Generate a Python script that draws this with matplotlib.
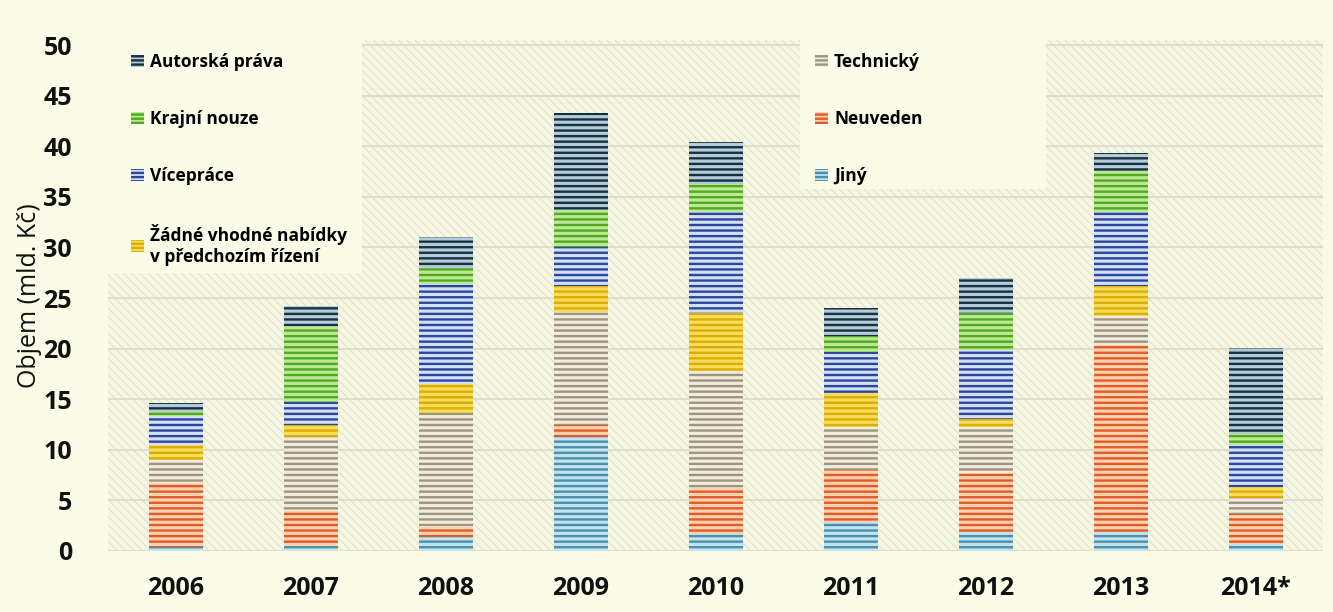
import numpy as np
import matplotlib.pyplot as plt
from matplotlib.patches import Rectangle, Patch

plt.rcParams['font.family'] = ['Open Sans', 'DejaVu Sans']

years = ['2006', '2007', '2008', '2009', '2010', '2011', '2012', '2013', '2014*']

# stacked from bottom to top (mld. Kc)
jiny = [0.4, 0.5, 1.4, 11.3, 1.7, 2.9, 1.9, 1.9, 0.7]
neuveden = [6.3, 3.5, 1.0, 1.2, 4.5, 5.1, 5.8, 18.5, 3.0]
technicky = [2.3, 7.3, 11.2, 11.1, 11.6, 4.3, 4.6, 2.8, 1.5]
zadne = [1.5, 1.2, 2.9, 2.6, 5.7, 3.3, 0.7, 3.0, 1.1]
viceprace = [2.8, 2.2, 9.9, 3.8, 10.0, 4.1, 6.9, 7.3, 4.2]
krajni = [0.4, 7.5, 1.6, 3.7, 2.8, 1.5, 3.6, 4.1, 1.1]
autorska = [0.9, 2.0, 3.0, 9.6, 4.1, 2.8, 3.5, 1.7, 8.5]

series = [
    ('Jiný', jiny, '#c3e3ee', '#4b8fae'),
    ('Neuveden', neuveden, '#fdd2ad', '#e4592a'),
    ('Technický', technicky, '#f4ebdc', '#9a9682'),
    ('Žádné vhodné nabídky\nv předchozím řízení', zadne, '#f6de5a', '#ddac06'),
    ('Vícepráce', viceprace, '#d3e0f4', '#2c46a0'),
    ('Krajní nouze', krajni, '#bde994', '#4faa22'),
    ('Autorská práva', autorska, '#b4ccd6', '#162f42'),
]

bg = '#fafce7'
fig = plt.figure(figsize=(13.33, 6.12), dpi=100, facecolor=bg)
ax = fig.add_axes([108 / 1333, 1 - 551 / 612, 1215 / 1333, 511 / 612])
ax.set_facecolor('none')

# hatched plot background
plt.rcParams['hatch.linewidth'] = 0.6
back = Rectangle((0, 0), 1, 1, transform=ax.transAxes, facecolor='#f6f7e2',
                 edgecolor='#dcdbc6', hatch='\\\\\\\\', lw=0, zorder=0.1)
ax.add_patch(back)

# legend backgrounds
for x0, y0, x1, y1 in [(108, 40, 362, 273), (800, 40, 1046, 189)]:
    ax.add_patch(Rectangle((x0 / 1333, 1 - y1 / 612), (x1 - x0) / 1333, (y1 - y0) / 612,
                           transform=fig.transFigure, facecolor=bg, lw=0,
                           zorder=2, clip_on=False))

plt.rcParams['hatch.linewidth'] = 1.7
x = np.arange(len(years))
bottom = np.zeros(len(years))
handles = {}
for name, vals, face, stripe in series:
    ax.bar(x, vals, 0.4, bottom=bottom, color=face, edgecolor=stripe,
           hatch='---', lw=0, zorder=3)
    bottom += np.array(vals)
    handles[name] = Patch(facecolor=face, edgecolor=stripe, hatch='----', lw=0)

ax.set_xlim(-0.5, len(years) - 0.5)
ax.set_ylim(0, 50.5)
ax.set_yticks(np.arange(0, 51, 5))
ax.set_xticks(x)
ax.set_xticklabels(years)
ax.yaxis.grid(True, color='#dbd9c3', lw=1.2, zorder=0.5)
ax.tick_params(length=0, labelsize=18, colors='#111111')
ax.tick_params(axis='y', pad=26)
ax.tick_params(axis='x', pad=18)
for lab in ax.get_xticklabels() + ax.get_yticklabels():
    lab.set_fontweight('bold')
for s in ax.spines.values():
    s.set_visible(False)

ax.set_ylabel('Objem (mld. Kč)', fontsize=18, color='#111111')
ax.yaxis.set_label_coords(-0.054, 0.5)

left_names = ['Autorská práva', 'Krajní nouze', 'Vícepráce',
              'Žádné vhodné nabídky\nv předchozím řízení']
right_names = ['Technický', 'Neuveden', 'Jiný']
kw = dict(frameon=False, fontsize=12.5, labelspacing=2.25, handlelength=0.75,
          handleheight=0.65, handletextpad=0.35, borderpad=0, borderaxespad=0,
          loc='upper left', bbox_transform=fig.transFigure)
leg1 = ax.legend([handles[n] for n in left_names], left_names,
                 bbox_to_anchor=(131 / 1333, 1 - 53 / 612), **kw)
for t in leg1.get_texts():
    t.set_fontweight('bold')
leg1.set_zorder(5)
ax.add_artist(leg1)
leg2 = ax.legend([handles[n] for n in right_names], right_names,
                 bbox_to_anchor=(815 / 1333, 1 - 53 / 612), **kw)
for t in leg2.get_texts():
    t.set_fontweight('bold')
leg2.set_zorder(5)

fig.savefig('out.png', dpi=100, facecolor=bg)
